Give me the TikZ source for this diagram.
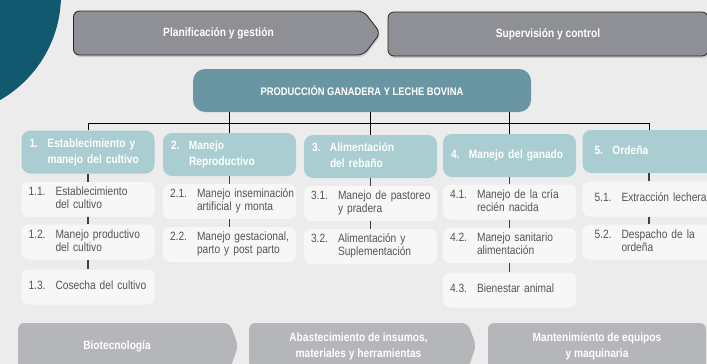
\documentclass[tikz,border=0pt]{standalone}
\usepackage{fontspec}
\setmainfont{Liberation Sans}[FakeStretch=0.85]
\usetikzlibrary{positioning, shapes.symbols, shadows}

\definecolor{bgcol}{HTML}{ECECED}
\definecolor{circcol}{HTML}{12586E}
\definecolor{topcol}{HTML}{8E9095}
\definecolor{prodcol}{HTML}{6A96A4}
\definecolor{headcol}{HTML}{A9CDD0}
\definecolor{subcol}{HTML}{F7F7F7}
\definecolor{subtext}{HTML}{555555}
\definecolor{botcol}{HTML}{B5B6B9}

\newcommand{\numline}[2]{\makebox[27pt][l]{#1}\begin{tabular}[t]{@{}l@{}}#2\end{tabular}}
\newcommand{\numhead}[2]{\makebox[18pt][l]{#1}\begin{tabular}[t]{@{}l@{}}#2\end{tabular}}

\tikzset{
  stage/.style={signal, signal to=east, signal pointer angle=105, fill=topcol,
    draw=black!85, line width=0.8pt, rounded corners=6pt, text=white,
    font=\bfseries\fontsize{12}{14}\selectfont, minimum height=44pt,
    drop shadow={opacity=0.3, shadow xshift=1pt, shadow yshift=-2pt}},
  support/.style={signal, signal to=east, signal pointer angle=140, fill=botcol,
    rounded corners=6pt, text=white, align=center,
    font=\bfseries\fontsize{12}{16}\selectfont, minimum height=46pt},
  head/.style={rectangle, rounded corners=9pt, fill=headcol, inner xsep=8pt,
    text width=117pt, minimum height=43pt, align=left, text=white,
    font=\bfseries\fontsize{12}{16}\selectfont},
  sub/.style={rectangle, rounded corners=7pt, fill=subcol, inner xsep=7pt,
    text width=119pt, minimum height=35pt, align=left, text=subtext,
    font=\fontsize{12}{13}\selectfont},
  last/.style={inner xsep=12pt, text width=109pt},
  bar/.style={draw=black, line width=0.8pt},
  link/.style={draw=black!75, line width=1.6pt}
}

\begin{document}
\begin{tikzpicture}[x=1pt, y=-1pt]
  \useasboundingbox (0,0) rectangle (707,364);
  \clip (0,0) rectangle (707,364);
  \fill[bgcol] (0,0) rectangle (707,364);
  \fill[circcol] (-60,-5) circle[radius=121pt];

  \node[stage, minimum width=307pt] (plan) at (218.5,33) {Planificación y gestión};
  \node[stage, rectangle, minimum width=320pt] (superv) at (548,34) {Supervisión y control};

  \node[rectangle, rounded corners=12pt, fill=prodcol, minimum width=338pt,
    minimum height=43pt, text=white, font=\bfseries\fontsize{11}{13}\selectfont]
    (prod) at (362,90.5) {PRODUCCIÓN GANADERA Y LECHE BOVINA};

  \node[head] (h1) at (88,152) {\numhead{1.}{Establecimiento y\\manejo del cultivo}};
  \node[head] (h2) at (229.5,154.5) {\numhead{2.}{Manejo\\Reproductivo}};
  \node[head] (h3) at (370.5,156.5) {\numhead{3.}{Alimentación\\del rebaño}};
  \node[head] (h4) at (509.5,155.5) {\numhead{4.}{Manejo del ganado}};
  \node[head, last] (h5) at (649,151.5) {\numhead{5.}{Ordeña}};

  \node[sub] (s11) at (88,199.5) {\numline{1.1.}{Establecimiento\\del cultivo}};
  \node[sub] (s12) at (88,242) {\numline{1.2.}{Manejo productivo\\del cultivo}};
  \node[sub] (s13) at (88,287) {\numline{1.3.}{Cosecha del cultivo}};
  \node[sub] (s21) at (229.5,201.5) {\numline{2.1.}{Manejo inseminación\\artificial y monta}};
  \node[sub] (s22) at (229.5,244.5) {\numline{2.2.}{Manejo gestacional,\\parto y post parto}};
  \node[sub] (s31) at (370.5,203.5) {\numline{3.1.}{Manejo de pastoreo\\y pradera}};
  \node[sub] (s32) at (370.5,246.5) {\numline{3.2.}{Alimentación y\\Suplementación}};
  \node[sub] (s41) at (509.5,202) {\numline{4.1.}{Manejo de la cría\\recién nacida}};
  \node[sub] (s42) at (509.5,245.5) {\numline{4.2.}{Manejo sanitario\\alimentación}};
  \node[sub] (s43) at (509.5,290) {\numline{4.3.}{Bienestar animal}};
  \node[sub, last] (s51) at (649,199) {\numline{5.1.}{Extracción lechera}};
  \node[sub, last] (s52) at (649,242) {\numline{5.2.}{Despacho de la\\ordeña}};

  \coordinate (top) at (0,123);
  \draw[bar] (h1.north) |- (h5.north |- top) -- (h5.north);
  \foreach \c in {h2,h3,h4}
    \draw[bar] (prod.south -| \c.north) -- (\c.north);
  \foreach \a/\b in {h1/s11, s11/s12, s12/s13, h2/s21, s21/s22, h3/s31, s31/s32,
                     h4/s41, s41/s42, s42/s43, h5/s51, s51/s52}
    \draw[link] (\a) -- (\b);

  \node[support, minimum width=220pt] (bio) at (124,346) {Biotecnología\hspace{14pt}};
  \node[support, minimum width=227pt] (insumos) at (358.5,346) {Abastecimiento de insumos,\\materiales y herramientas};
  \node[support, rectangle, minimum width=218pt] (mant) at (597,346) {Mantenimiento de equipos\\y maquinaria};
\end{tikzpicture}
\end{document}
